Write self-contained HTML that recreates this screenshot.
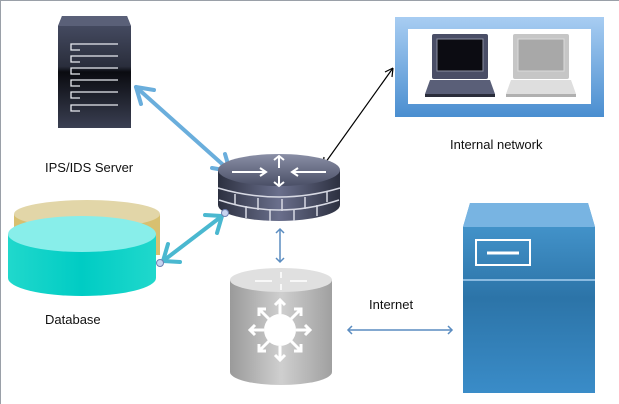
<!DOCTYPE html>
<html><head><style>
html,body{margin:0;padding:0;background:#fff;}
svg{display:block;}
text{font-family:"Liberation Sans",sans-serif;font-size:13px;fill:#111;}
</style></head><body>
<svg width="619" height="404" viewBox="0 0 619 404" xmlns="http://www.w3.org/2000/svg">
<defs>
<linearGradient id="srv" x1="0" y1="0" x2="0" y2="1"><stop offset="0" stop-color="#4a5068"/><stop offset="0.45" stop-color="#2a2e3c"/><stop offset="0.5" stop-color="#0a0b10"/><stop offset="1" stop-color="#3a3f52"/></linearGradient>
<linearGradient id="fwside" x1="0" y1="0" x2="1" y2="0"><stop offset="0" stop-color="#2c3040"/><stop offset="0.5" stop-color="#6a6f8c"/><stop offset="1" stop-color="#2c3040"/></linearGradient>
<linearGradient id="fwtop" x1="0" y1="0" x2="0" y2="1"><stop offset="0" stop-color="#8a8fa6"/><stop offset="1" stop-color="#4a4f66"/></linearGradient>
<linearGradient id="box" x1="0" y1="0" x2="0" y2="1"><stop offset="0" stop-color="#a8cdf2"/><stop offset="1" stop-color="#4a8ed0"/></linearGradient>
<linearGradient id="cyan" x1="0" y1="0" x2="1" y2="0"><stop offset="0" stop-color="#20d8cc"/><stop offset="0.5" stop-color="#00ccc4"/><stop offset="1" stop-color="#20d8cc"/></linearGradient>
<linearGradient id="gray" x1="0" y1="0" x2="1" y2="0"><stop offset="0" stop-color="#9a9a9a"/><stop offset="0.5" stop-color="#cfcfcf"/><stop offset="1" stop-color="#a0a0a0"/></linearGradient>
<linearGradient id="blue" x1="0" y1="0" x2="0" y2="1"><stop offset="0" stop-color="#4a9cd4"/><stop offset="0.5" stop-color="#2c74a8"/><stop offset="1" stop-color="#3a8cc8"/></linearGradient>
</defs>
<rect x="0" y="0" width="619" height="404" fill="#fff"/>
<line x1="0" y1="0.5" x2="619" y2="0.5" stroke="#9aa0a8"/>
<line x1="0.5" y1="0" x2="0.5" y2="404" stroke="#9aa0a8"/>

<!-- IPS server -->
<path d="M62 16 L127 16 L131 26 L131 128 L58 128 L58 26 Z" fill="url(#srv)"/>
<path d="M62 16 L127 16 L131 26 L58 26 Z" fill="#5a6078"/>
<g stroke="#e8eaf0" stroke-width="1.3" fill="none">
<path d="M118 44 H71 V50 H80"/><path d="M118 56 H71 V62 H80"/><path d="M118 68 H71 V74 H80"/>
<path d="M118 80 H71 V86 H80"/><path d="M118 92 H71 V98 H80"/><path d="M118 105 H71 V111 H80"/>
</g>
<text x="45" y="172">IPS/IDS Server</text>

<!-- arrow server-firewall -->
<g stroke="#6aaedc" stroke-width="4" fill="none" stroke-linecap="round" stroke-linejoin="round">
<line x1="136" y1="87" x2="230" y2="171"/>
<path d="M154 90 L136 87 L141 104"/>
<path d="M212 168 L230 171 L225 154"/>
</g>

<!-- internal network -->
<rect x="395" y="17" width="209" height="100" fill="url(#box)"/>
<rect x="408" y="29" width="183" height="75" fill="#fff"/>
<rect x="432" y="34" width="56" height="45" rx="2" fill="#4a4e66"/>
<rect x="437" y="39" width="46" height="32" fill="#0c0c12" stroke="#8a8ea0"/>
<path d="M430 80 H490 L495 94 H425 Z" fill="#5a5f78"/>
<rect x="425" y="94" width="70" height="3" fill="#2a2d3a"/>
<rect x="513" y="34" width="56" height="45" rx="2" fill="#c6c6c6"/>
<rect x="518" y="39" width="46" height="32" fill="#a8a8a8" stroke="#dadada"/>
<path d="M511 80 H571 L576 94 H506 Z" fill="#dedede"/>
<rect x="506" y="94" width="70" height="3" fill="#b0b0b0"/>
<text x="450" y="149">Internal network</text>

<!-- black arrow -->
<g stroke="#000" stroke-width="1.2" fill="none">
<line x1="323" y1="166" x2="393" y2="68"/>
<path d="M323 166 L324 157 M323 166 L331 162"/>
<path d="M393 68 L392 77 M393 68 L385 72"/>
</g>

<!-- firewall -->
<path d="M218 170 V205 A61 16 0 0 0 340 205 V170 Z" fill="url(#fwside)"/>
<g stroke="#d8dae4" stroke-width="1.5" fill="none">
<path d="M218 188 Q279 206 340 188"/>
<path d="M219 200 Q279 220 339 200"/>
<path d="M235 194 v10 M258 198 v12 M282 199 v12 M305 197 v12 M327 192 v10"/>
<path d="M246 206 v12 M270 209 v12 M294 209 v12 M317 205 v11"/>
</g>
<ellipse cx="279" cy="170" rx="61" ry="16" fill="url(#fwtop)"/>
<g stroke="#fff" stroke-width="2" fill="none">
<path d="M232 172 H266 M260 168 L266 172 L260 176"/>
<path d="M326 172 H292 M298 168 L292 172 L298 176"/>
<path d="M279 168 V156 M274 160 L279 156 L284 160"/>
<path d="M279 176 V186 M274 182 L279 186 L284 182"/>
</g>

<!-- database -->
<path d="M14 214 V255 H160 V214 Z" fill="#d8c070"/>
<ellipse cx="87" cy="214" rx="73" ry="14" fill="#e2d6a8"/>
<path d="M8 234 V278 A74 18 0 0 0 156 278 V234 Z" fill="url(#cyan)"/>
<ellipse cx="82" cy="234" rx="74" ry="18" fill="#88eeea"/>
<text x="45" y="324">Database</text>

<!-- db arrow -->
<g stroke="#4ab8d0" stroke-width="4" fill="none" stroke-linecap="round" stroke-linejoin="round">
<line x1="163" y1="261" x2="222" y2="216"/>
<path d="M168 244 L163 261 L180 262"/>
<path d="M205 215 L222 216 L217 233"/>
</g>
<circle cx="160" cy="263" r="3.5" fill="#c8d4f0" stroke="#7080b0"/>
<circle cx="225" cy="213" r="3.5" fill="#c8d4f0" stroke="#7080b0"/>

<!-- vertical arrow -->
<g stroke="#5a8cc0" stroke-width="1.5" fill="none">
<line x1="280" y1="229" x2="280" y2="262"/>
<path d="M276 233 L280 229 L284 233 M276 258 L280 262 L284 258"/>
</g>

<!-- gray router -->
<path d="M230 280 V372 A51 13 0 0 0 332 372 V280 Z" fill="url(#gray)"/>
<ellipse cx="281" cy="280" rx="51" ry="12" fill="#e0e0e0"/>
<g stroke="#fff" stroke-width="1.5" fill="none"><path d="M255 281 H272 M290 281 H307 M281 272 V278 M281 284 V290"/></g>
<circle cx="280" cy="330" r="16" fill="#fff"/>
<g stroke="#fff" stroke-width="3" fill="none">
<path d="M280 314 V300 M275 305 L280 300 L285 305"/>
<path d="M280 346 V360 M275 355 L280 360 L285 355"/>
<path d="M264 330 H250 M255 325 L250 330 L255 335"/>
<path d="M296 330 H310 M305 325 L310 330 L305 335"/>
<path d="M269 319 L259 309 M259 316 V309 H266"/>
<path d="M291 319 L301 309 M294 309 H301 V316"/>
<path d="M269 341 L259 351 M259 344 V351 H266"/>
<path d="M291 341 L301 351 M294 351 H301 V344"/>
</g>

<!-- internet -->
<text x="369" y="309">Internet</text>
<g stroke="#5a8cc0" stroke-width="1.5" fill="none">
<line x1="348" y1="330" x2="452" y2="330"/>
<path d="M352 326 L348 330 L352 334 M448 326 L452 330 L448 334"/>
</g>

<!-- blue server -->
<path d="M470 203 H588 L595 227 V393 H463 V227 Z" fill="url(#blue)"/>
<path d="M470 203 H588 L595 227 H463 Z" fill="#78b4e2"/>
<line x1="463" y1="280" x2="595" y2="280" stroke="#a8d0f0" stroke-width="1.5"/>
<rect x="476" y="240" width="54" height="25" fill="none" stroke="#fff" stroke-width="2"/>
<line x1="487" y1="253" x2="519" y2="253" stroke="#fff" stroke-width="3"/>
</svg>
</body></html>
